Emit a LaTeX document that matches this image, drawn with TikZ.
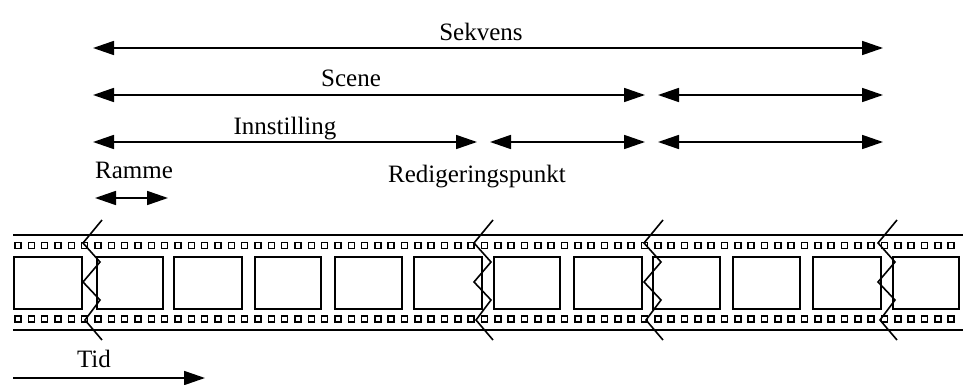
\documentclass[tikz,border=0pt]{standalone}
\usepackage{fontspec}
\setmainfont{Liberation Serif}
\usetikzlibrary{arrows.meta}
\begin{document}
\begin{tikzpicture}[x=1pt,y=-1pt,
  lbl/.style={anchor=base, inner sep=0pt, font=\fontsize{25}{29}\selectfont},
  tip/.tip={Triangle[length=21pt,width=14pt]},
  span/.style={line width=1.7pt, tip-tip},
  timeline/.style={line width=1.7pt, -tip},
  edge/.style={line width=1.9pt},
  framebox/.style={line width=1.9pt},
  hole/.style={line width=1.5pt},
  cutline/.style={line width=1.6pt, line join=miter}]
\useasboundingbox (0,0) rectangle (963,385);

% labels
\node[lbl] (sekvens) at (481,41) {Sekvens};
\node[lbl] (scene) at (351,87) {Scene};
\node[lbl] (innstilling) at (285,135) {Innstilling};
\node[lbl] (ramme) at (134,178) {Ramme};
\node[lbl] (redig) at (477,182) {Redigeringspunkt};
\node[lbl] (tid) at (94,367) {Tid};

% span end points
\coordinate (sq-l) at (93,48);   \coordinate (sq-r) at (883,48);
\coordinate (sc1-l) at (93,95);  \coordinate (sc1-r) at (645,95);
\coordinate (sc2-l) at (658,95); \coordinate (sc2-r) at (883,95);
\coordinate (in1-l) at (93,142); \coordinate (in1-r) at (477,142);
\coordinate (in2-l) at (490,142);\coordinate (in2-r) at (645,142);
\coordinate (in3-l) at (658,142);\coordinate (in3-r) at (883,142);
\coordinate (fr-l) at (95,198);  \coordinate (fr-r) at (168,198);
\coordinate (t-l) at (13,378);   \coordinate (t-r) at (205,378);

% spans
\draw[span] (sq-l) -- (sq-r);
\draw[span] (sc1-l) -- (sc1-r);
\draw[span] (sc2-l) -- (sc2-r);
\draw[span] (in1-l) -- (in1-r);
\draw[span] (in2-l) -- (in2-r);
\draw[span] (in3-l) -- (in3-r);
\draw[span] (fr-l) -- (fr-r);
\draw[timeline] (t-l) -- (t-r);

% film strip edges
\draw[edge] (13,235) -- (963,235);
\draw[edge] (13,330) -- (963,330);

% sprocket holes
\foreach \i in {0,...,70} {
  \draw[hole] ({15+13.33*\i},242.5) rectangle ++(6,6);
  \draw[hole] ({15+13.33*\i},316) rectangle ++(6,6);
}

% frames (left edge / right edge)
\foreach \a/\b in {14/82, 97/163, 174/242, 255/321, 335/402, 414/482,
                   494/560, 574/642, 653/720, 733/800, 813/881, 893/959} {
  \draw[framebox] (\a,257) rectangle (\b,309);
}

% edit points
\foreach \c in {102,493,663,897} {
  \draw[cutline] (\c,220) -- ++(-19,23) -- ++(17,19) -- ++(-17,20)
    -- ++(17,18) -- ++(-15,20) -- ++(17,20);
}
\end{tikzpicture}
\end{document}
